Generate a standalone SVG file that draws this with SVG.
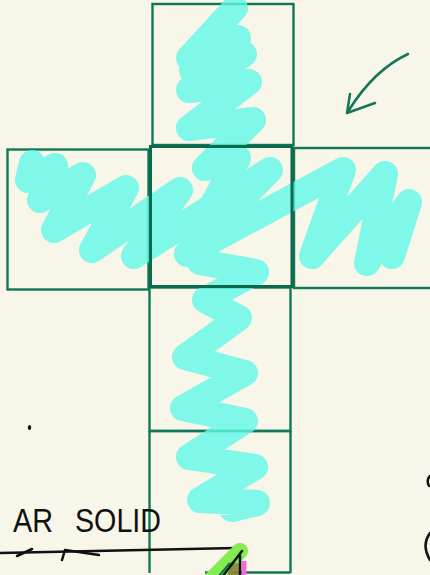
<svg xmlns="http://www.w3.org/2000/svg" width="430" height="575" viewBox="0 0 430 575">
<style>
.sq{fill:none;stroke:#107858;stroke-width:2.4}
.ink{fill:none;stroke:#111;stroke-width:2.5;stroke-linecap:round;stroke-linejoin:round}
.scr{fill:none;stroke:#61f8e9;stroke-width:26;stroke-linecap:round;stroke-linejoin:round}
.lbl{font-family:"Liberation Sans",Arial,sans-serif;font-size:33px;fill:#111}
</style>
<rect width="430" height="575" fill="#f8f5e9"/>
<g id="squares">
<rect id="top" class="sq" x="152.5" y="4" width="141" height="141"/>
<rect id="left" class="sq" x="7.5" y="149.5" width="141" height="140"/>
<rect id="right" class="sq" x="294" y="148" width="140" height="140"/>
<rect id="below" class="sq" x="149.5" y="287.5" width="141" height="143.5"/>
<path id="bottom" class="sq" d="M149.5,431 V573 M290.5,431 V573 M149.5,431 H290.5 M205,572.5 H290.5"/>
</g>
<g id="scribble" opacity="0.8">
<path class="scr" d="M235,8 L189,58 L238,38 L192,70 L244,54 L189,90 L249,82 L189,128 L253,120 L205,168 L238,158 L207,215 L228,205 L200,262 L256,272 L205,300 L239,318 L185,357 L245,373 L183,408 L245,421 L189,457 L255,467 L200,500 L257,503 L232,509"/>
<path class="scr" d="M32,163 L28,180 L55,166 L40,200 L83,175 L54,230 L126,188 L92,250 L180,190 L134,256 L270,170 L187,254 L343,170 L312,256 L385,174 L367,263 L409,202 L392,256"/>
</g>
<rect id="center" x="150.5" y="146.5" width="141.5" height="140" fill="none" stroke="#0b6a4b" stroke-width="3"/>
<g id="arrow" fill="none" stroke="#107858" stroke-width="2.5" stroke-linecap="round" stroke-linejoin="round">
<path d="M408,54 Q374,70 349,110"/>
<path d="M350,94 L347,113 L375,103"/>
</g>
<g id="label">
<text class="lbl" x="13" y="532" textLength="40" lengthAdjust="spacingAndGlyphs">AR</text>
<text class="lbl" x="75" y="532" textLength="86" lengthAdjust="spacingAndGlyphs">SOLID</text>
<path class="ink" d="M0,553 L236,548"/>
<path class="ink" d="M17,556 L32,549 M62,560 L65,550 L99,555"/>
</g>
<g id="marks">
<path d="M240,551 L213,578" stroke="#84ec50" stroke-width="16" stroke-linecap="round" fill="none"/>
<path d="M236,563 L232,580" stroke="#8b8236" stroke-width="11" fill="none" opacity="0.9"/>
<path d="M244,561 V580" stroke="#f06ad8" stroke-width="5" fill="none"/>
<path class="ink" d="M242,551 L222,577 M240,556 V577" stroke-width="2"/>
<path d="M230,563 L218,577" stroke="#0d6a4a" stroke-width="2" fill="none"/>
<ellipse cx="29.5" cy="427.5" rx="1.7" ry="2.6" fill="#111"/>
<path class="ink" d="M430,476 Q426,480 429,486" stroke-width="2"/>
<path class="ink" d="M430,533 Q421,545 430,560" stroke-width="2"/>
</g>
</svg>
